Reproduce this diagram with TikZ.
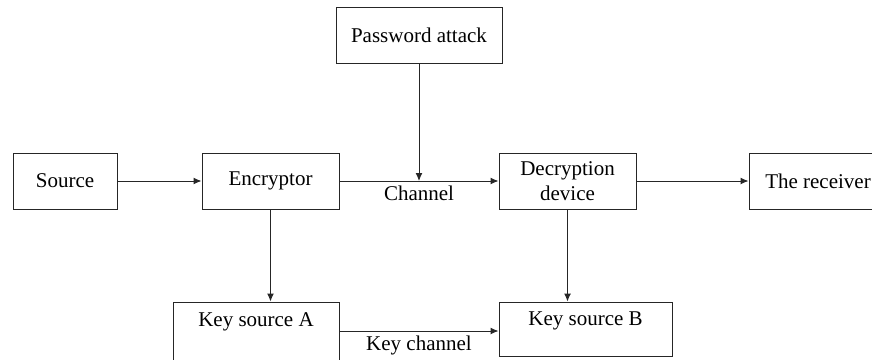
\documentclass[tikz,border=0pt]{standalone}
\usepackage{fontspec}
\setmainfont{Liberation Serif}
\usetikzlibrary{arrows.meta, positioning}

\begin{document}
\begin{tikzpicture}[
        x=0.5pt, y=-0.5pt,
        node distance=42pt,
        block/.style={rectangle, draw=black!85, line width=0.5pt, minimum height=28pt, align=center, font=\fontsize{10.5}{12.5}\selectfont},
        keybox/.style={block, text depth=10pt},
        lbl/.style={font=\fontsize{10.5}{12.5}\selectfont, inner sep=2pt},
        arrow/.style={line width=0.5pt, draw=black!85, -{Latex[length=4pt, width=3.5pt]}}
    ]
        \useasboundingbox (0,0) rectangle (872,359);
        \clip (0,0) rectangle (872,359);

        \node [block, minimum width=52pt] (src) at (65,181) {Source};
        \node [block, minimum width=68.5pt, right=42pt of src] (enc) {Encryptor};
        \node [block, minimum width=68.5pt, right=79.5pt of enc] (dec) {Decryption\\device};
        \node [block, minimum width=69pt, right=56pt of dec] (rcv) {The receiver};
        \node [keybox, text depth=11pt, minimum width=83pt, minimum height=29pt, below=46pt of enc.south east, anchor=north east] (ksa) {Key source A};
        \node [keybox, minimum width=86.5pt, minimum height=27pt, below=46pt of dec.south west, anchor=north west] (ksb) {Key source B};

        \draw [arrow] (src) -- (enc);
        \draw [arrow] (enc) -- coordinate (tap) node [lbl, below] (chan) {Channel} (dec);
        \draw [arrow] (dec) -- (rcv);
        \draw [arrow] (enc.south) -- (enc.south |- ksa.north);
        \draw [arrow] (dec.south) -- (dec.south |- ksb.north);
        \draw [arrow] (ksa.east) -- node [lbl, below] (kchan) {Key channel} (ksa.east -| ksb.west);

        \node [block, minimum width=83pt, above=58.5pt of tap] (pwd) {Password attack};
        \draw [arrow] (pwd) -- (tap);
    \end{tikzpicture}
\end{document}
